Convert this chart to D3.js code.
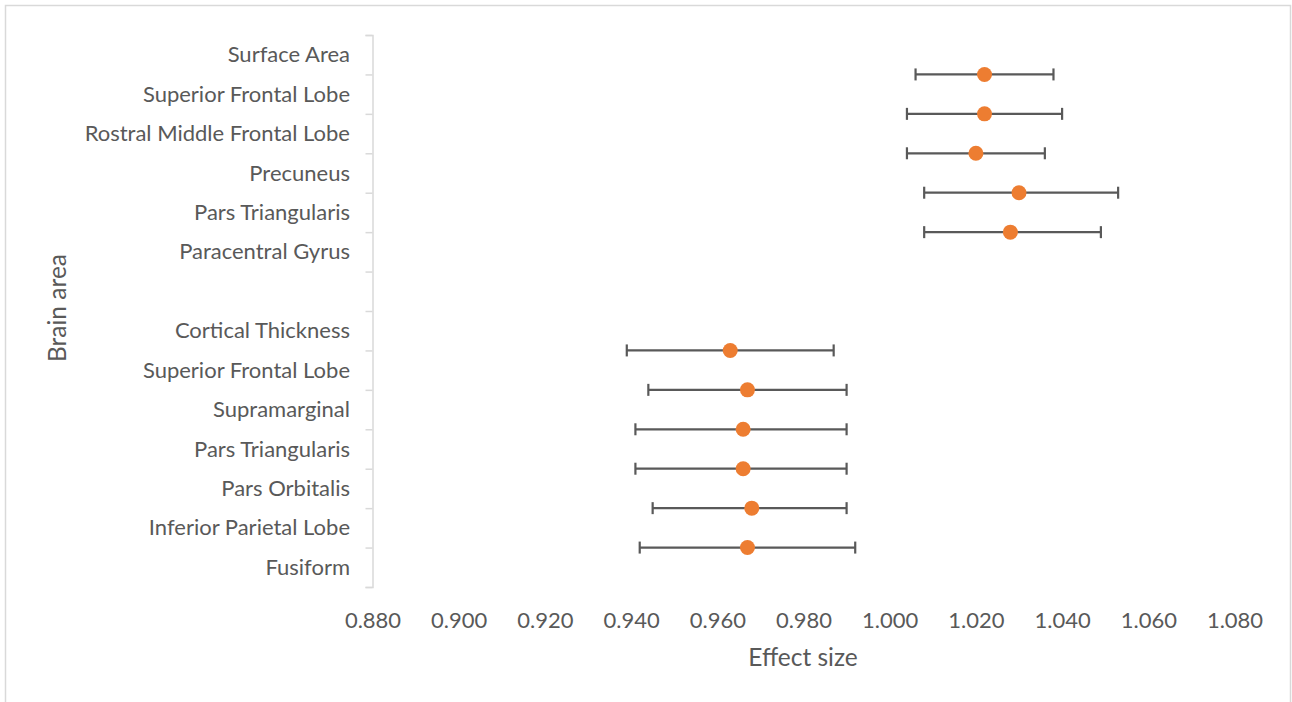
<!DOCTYPE html>
<html>
<head>
<meta charset="utf-8">
<script src="https://cdn.jsdelivr.net/npm/d3@7"></script>
<style>
  body { margin: 0; background: #fff; }
  svg text { font-family: Lato, "Open Sans", sans-serif; fill: #595959; }
</style>
</head>
<body>
<svg id="chart" width="1292" height="702"></svg>
<script>

// category labels, top to bottom (one blank row separates the two groups)
var labels = ["Surface Area", "Superior Frontal Lobe", "Rostral Middle Frontal Lobe", "Precuneus",
    "Pars Triangularis", "Paracentral Gyrus", "", "Cortical Thickness", "Superior Frontal Lobe",
    "Supramarginal", "Pars Triangularis", "Pars Orbitalis", "Inferior Parietal Lobe", "Fusiform"];

// row position of each point on the y axis (0 = top of axis)
var rows = [1, 2, 3, 4, 5, 8, 9, 10, 11, 12, 13];
var effect = [1.022, 1.022, 1.020, 1.030, 1.028, 0.963, 0.967, 0.966, 0.966, 0.968, 0.967];
var lower  = [1.006, 1.004, 1.004, 1.008, 1.008, 0.939, 0.944, 0.941, 0.941, 0.945, 0.942];
var upper  = [1.038, 1.040, 1.036, 1.053, 1.049, 0.987, 0.990, 0.990, 0.990, 0.990, 0.992];

var xTicks = [0.88, 0.90, 0.92, 0.94, 0.96, 0.98, 1.00, 1.02, 1.04, 1.06, 1.08];

var chart = {
    width: 1292,
    height: 702,
    left: 372.5,
    right: 1234.5,
    top: 35,
    bottom: 587,
    fontSize: 22,
    titleSize: 24.5,
};

var svg = d3.select("#chart");

// outer chart frame
svg.append("rect")
    .attr("x", 5.5).attr("y", 5.5)
    .attr("width", 1285).attr("height", 720)
    .attr("fill", "none")
    .attr("stroke", "#d9d9d9")
    .attr("stroke-width", 1.5);

var x = d3.scaleLinear().domain([0.88, 1.08]).range([chart.left, chart.right]);
var y = d3.scaleLinear().domain([0, labels.length]).range([chart.top, chart.bottom]);

// y axis: line + ticks at row boundaries
var yAxis = svg.append("g")
    .attr("transform", "translate(" + chart.left + ",0)")
    .call(d3.axisLeft(y).tickValues(d3.range(labels.length + 1))
        .tickSize(7).tickSizeOuter(7).tickFormat(""));
yAxis.selectAll("path, line").attr("stroke", "#d9d9d9").attr("stroke-width", 1.5);

// category labels sit in the middle of each row
svg.append("g").selectAll("text")
    .data(labels)
    .enter().append("text")
        .attr("x", 350)
        .attr("y", (d, i) => y(i + 0.5) + 7.5)
        .attr("text-anchor", "end")
        .style("font-size", chart.fontSize + "px")
        .text(d => d);

// x axis: labels only
var xAxis = svg.append("g")
    .attr("transform", "translate(0,600)")
    .call(d3.axisBottom(x).tickValues(xTicks).tickSize(0).tickFormat(d3.format(".3f")));
xAxis.select(".domain").remove();
xAxis.selectAll("text")
    .attr("y", 0)
    .attr("dy", "0")
    .attr("transform", "translate(0,28)")
    .style("font-size", chart.fontSize + "px")
    .style("font-family", "Lato, 'Open Sans', sans-serif")
    .attr("fill", "#595959");

var points = rows.map((r, i) => ({ row: r, effect: effect[i], lower: lower[i], upper: upper[i] }));

// error bars
var bars = svg.append("g").attr("class", "errors")
    .attr("stroke", "#595959")
    .attr("stroke-width", 2.2);

bars.selectAll("line.bar")
    .data(points)
    .enter().append("line")
        .attr("x1", d => x(d.lower))
        .attr("x2", d => x(d.upper))
        .attr("y1", d => y(d.row))
        .attr("y2", d => y(d.row));

bars.selectAll("line.cap-lo")
    .data(points)
    .enter().append("line")
        .attr("x1", d => x(d.lower))
        .attr("x2", d => x(d.lower))
        .attr("y1", d => y(d.row) - 6)
        .attr("y2", d => y(d.row) + 6);

bars.selectAll("line.cap-hi")
    .data(points)
    .enter().append("line")
        .attr("x1", d => x(d.upper))
        .attr("x2", d => x(d.upper))
        .attr("y1", d => y(d.row) - 6)
        .attr("y2", d => y(d.row) + 6);

// markers
svg.append("g").selectAll("circle")
    .data(points)
    .enter().append("circle")
        .attr("cx", d => x(d.effect))
        .attr("cy", d => y(d.row))
        .attr("r", 7.5)
        .attr("fill", "#ed7d31");

// axis titles
svg.append("text")
    .attr("x", (chart.left + chart.right) / 2 - 0.5)
    .attr("y", 666)
    .attr("text-anchor", "middle")
    .style("font-size", chart.titleSize + "px")
    .text("Effect size");

svg.append("text")
    .attr("transform", "translate(66,308) rotate(-90)")
    .attr("text-anchor", "middle")
    .style("font-size", chart.titleSize + "px")
    .text("Brain area");

</script>
</body>
</html>
